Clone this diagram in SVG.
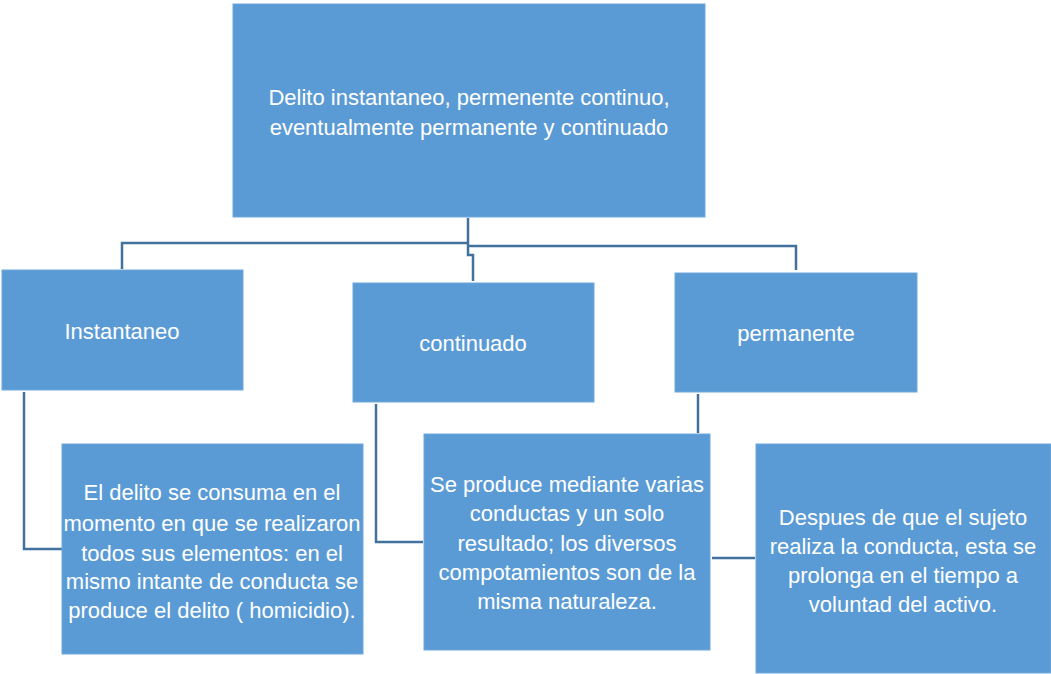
<svg xmlns="http://www.w3.org/2000/svg" width="1051" height="674" viewBox="0 0 1051 674">
<style>
.box{fill:#5B9BD5;stroke:#6FA8DC;stroke-width:1}
.t{font-family:"Liberation Sans",Arial,sans-serif;font-size:22px;fill:#ffffff;text-anchor:middle}
.c{fill:none;stroke:#41719C;stroke-width:2.5}
</style>
<rect width="1051" height="674" fill="#ffffff"/>
<g id="connectors">
<path class="c" d="M468 218 V243 M122 269 V243 H468 M468 246 H796 V270 M468 243 V255 H473 V281"/>
<path class="c" d="M24 392 V549 H62"/>
<path class="c" d="M376 404 V542 H423"/>
<path class="c" d="M698 394 V433"/>
<path class="c" d="M712 558 H755"/>
</g>
<g id="root">
<rect class="box" x="233" y="4" width="472" height="213"/>
<text class="t" x="469" y="105">Delito instantaneo, permenente continuo,</text>
<text class="t" x="469" y="135">eventualmente permanente y continuado</text>
</g>
<g id="instantaneo">
<rect class="box" x="2" y="270" width="241" height="120"/>
<text class="t" x="122" y="339">Instantaneo</text>
</g>
<g id="continuado">
<rect class="box" x="353" y="283" width="241" height="119"/>
<text class="t" x="473" y="351">continuado</text>
</g>
<g id="permanente">
<rect class="box" x="675" y="273" width="242" height="119"/>
<text class="t" x="796" y="341">permanente</text>
</g>
<g id="desc-instantaneo">
<rect class="box" x="62" y="444" width="301" height="210"/>
<text class="t" x="212" y="500">El delito se consuma en el</text>
<text class="t" x="212" y="531">momento en que se realizaron</text>
<text class="t" x="212" y="561">todos sus elementos: en el</text>
<text class="t" x="212" y="589">mismo intante de conducta se</text>
<text class="t" x="212" y="618">produce el delito ( homicidio).</text>
</g>
<g id="desc-continuado">
<rect class="box" x="424" y="434" width="286" height="216"/>
<text class="t" x="567" y="492">Se produce mediante varias</text>
<text class="t" x="567" y="521">conductas y un solo</text>
<text class="t" x="567" y="551">resultado; los diversos</text>
<text class="t" x="567" y="580">compotamientos son de la</text>
<text class="t" x="567" y="609">misma naturaleza.</text>
</g>
<g id="desc-permanente">
<rect class="box" x="756" y="444" width="295" height="229"/>
<text class="t" x="903" y="525">Despues de que el sujeto</text>
<text class="t" x="903" y="554">realiza la conducta, esta se</text>
<text class="t" x="903" y="583">prolonga en el tiempo a</text>
<text class="t" x="903" y="612">voluntad del activo.</text>
</g>
</svg>
